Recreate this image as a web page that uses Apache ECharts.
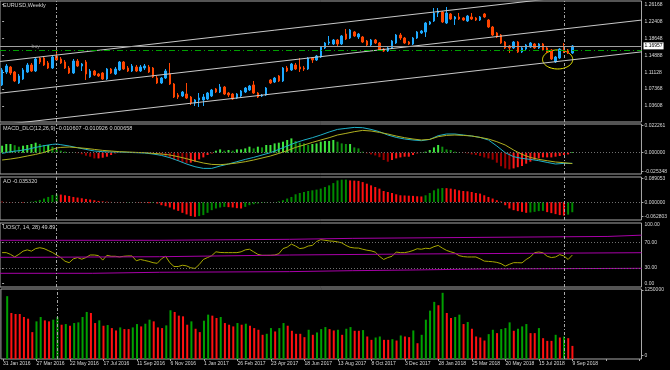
<!DOCTYPE html>
<html><head><meta charset="utf-8">
<script src="https://cdn.jsdelivr.net/npm/echarts@6/dist/echarts.min.js"></script>
<style>html,body{margin:0;padding:0;background:#000}#c{width:670px;height:370px}</style>
</head><body><div id="c"></div>
<script>
// ---------- data ----------
const dateLabels = ['31 Jan 2016','27 Mar 2016','22 May 2016','17 Jul 2016','11 Sep 2016','6 Nov 2016','1 Jan 2017','26 Feb 2017','23 Apr 2017','18 Jun 2017','13 Aug 2017','8 Oct 2017','3 Dec 2017','28 Jan 2018','25 Mar 2018','20 May 2018','15 Jul 2018','9 Sep 2018'];
const slotCount = 153; // weekly slots incl. empty space on the right
const barSlots = Array.from({length: slotCount}, (_, i) => String(i));

// [open, close, low, high]
const ohlc = [
[1.0829,1.1163,1.0806,1.1207],[1.1118,1.1252,1.1074,1.1296],[1.1229,1.1096,1.1051,1.1252],[1.1118,1.0918,1.0895,1.1140],[1.0873,1.1029,1.0851,1.1074],
[1.0962,1.1163,1.0940,1.1207],[1.1118,1.1274,1.1096,1.1319],[1.1274,1.1140,1.1118,1.1319],[1.1140,1.1408,1.1118,1.1452],[1.1430,1.1341,1.1296,1.1452],
[1.1430,1.1274,1.1252,1.1474],[1.1319,1.1207,1.1185,1.1363],[1.1207,1.1452,1.1185,1.1497],[1.1474,1.1385,1.1363,1.1630],[1.1408,1.1319,1.1296,1.1452],
[1.1341,1.1207,1.1185,1.1385],[1.1207,1.1096,1.1074,1.1252],[1.1096,1.1363,1.1074,1.1408],[1.1363,1.1252,1.1229,1.1408],[1.1252,1.1296,1.1140,1.1319],
[1.1341,1.1074,1.0940,1.1385],[1.1007,1.1140,1.0984,1.1185],[1.1140,1.1051,1.1029,1.1163],[1.1074,1.1029,1.1007,1.1096],[1.1096,1.0962,1.0940,1.1118],
[1.0962,1.1185,1.0940,1.1207],[1.1185,1.1096,1.1074,1.1207],[1.1074,1.1185,1.1051,1.1229],[1.1163,1.1341,1.1140,1.1363],[1.1341,1.1185,1.1163,1.1363],
[1.1207,1.1140,1.1118,1.1252],[1.1140,1.1252,1.1118,1.1296],[1.1229,1.1140,1.1118,1.1274],[1.1140,1.1229,1.1118,1.1274],[1.1207,1.1252,1.1163,1.1296],
[1.1229,1.1118,1.1096,1.1274],[1.1207,1.1007,1.0984,1.1229],[1.0984,1.0873,1.0851,1.1029],[1.0873,1.0984,1.0851,1.1007],[1.0984,1.1140,1.0962,1.1185],
[1.1074,1.0851,1.0829,1.1319],[1.0851,1.0561,1.0539,1.0873],[1.0606,1.0561,1.0517,1.0650],[1.0584,1.0673,1.0561,1.0695],[1.0628,1.0539,1.0517,1.0873],
[1.0561,1.0428,1.0383,1.0584],[1.0428,1.0495,1.0361,1.0517],[1.0495,1.0539,1.0339,1.0650],[1.0495,1.0561,1.0361,1.0628],[1.0517,1.0650,1.0495,1.0673],
[1.0584,1.0717,1.0561,1.0740],[1.0740,1.0673,1.0650,1.0762],[1.0673,1.0784,1.0650,1.0851],[1.0784,1.0628,1.0606,1.0806],[1.0650,1.0606,1.0561,1.0673],
[1.0628,1.0517,1.0495,1.0650],[1.0539,1.0628,1.0517,1.0650],[1.0584,1.0695,1.0561,1.0717],[1.0673,1.0762,1.0650,1.0784],[1.0717,1.0806,1.0695,1.0829],
[1.0829,1.0650,1.0628,1.0918],[1.0650,1.0561,1.0539,1.0673],[1.0584,1.0606,1.0561,1.0628],[1.0606,1.0762,1.0584,1.0784],[1.0940,1.0873,1.0851,1.0962],
[1.0895,1.0984,1.0873,1.1007],[1.1029,1.0918,1.0895,1.1051],[1.0918,1.1207,1.0895,1.1229],[1.1207,1.1140,1.1118,1.1252],[1.1163,1.1296,1.1140,1.1319],
[1.1274,1.1185,1.1163,1.1319],[1.1229,1.1185,1.1118,1.1430],[1.1207,1.1185,1.1140,1.1252],[1.1185,1.1430,1.1163,1.1452],[1.1430,1.1385,1.1319,1.1452],
[1.1385,1.1474,1.1363,1.1497],[1.1452,1.1675,1.1430,1.1697],[1.1653,1.1764,1.1630,1.1786],[1.1764,1.1786,1.1719,1.1920],[1.1742,1.1831,1.1719,1.1853],
[1.1831,1.1742,1.1675,1.1853],[1.1742,1.1920,1.1719,1.1942],[1.1964,1.1853,1.1831,1.2076],[1.1875,1.2053,1.1853,1.2076],[1.2009,1.1920,1.1898,1.2031],
[1.1898,1.1964,1.1853,1.1987],[1.1898,1.1786,1.1764,1.1920],[1.1808,1.1719,1.1697,1.1831],[1.1719,1.1831,1.1697,1.1853],[1.1831,1.1764,1.1742,1.1853],
[1.1764,1.1608,1.1586,1.1786],[1.1630,1.1586,1.1564,1.1653],[1.1586,1.1653,1.1564,1.1675],[1.1653,1.1808,1.1630,1.1831],[1.1764,1.1942,1.1742,1.1964],
[1.1942,1.1875,1.1831,1.1987],[1.1875,1.1764,1.1742,1.1898],[1.1786,1.1742,1.1719,1.1808],[1.1742,1.1875,1.1719,1.1898],[1.1875,1.2009,1.1853,1.2031],
[1.1987,1.2031,1.1964,1.2053],[1.2009,1.2209,1.1898,1.2232],[1.2187,1.2232,1.2165,1.2254],[1.2254,1.2432,1.2232,1.2543],[1.2432,1.2477,1.2343,1.2543],
[1.2454,1.2232,1.2209,1.2477],[1.2209,1.2432,1.2187,1.2566],[1.2410,1.2298,1.2276,1.2432],[1.2298,1.2343,1.2165,1.2365],[1.2343,1.2298,1.2276,1.2432],
[1.2321,1.2276,1.2254,1.2343],[1.2254,1.2365,1.2232,1.2388],[1.2343,1.2298,1.2276,1.2432],[1.2321,1.2276,1.2254,1.2343],[1.2276,1.2343,1.2254,1.2365],
[1.2410,1.2343,1.2321,1.2432],[1.2276,1.2120,1.2098,1.2298],[1.2120,1.1942,1.1920,1.2143],[1.1987,1.1898,1.1875,1.2009],[1.1942,1.1764,1.1742,1.1964],
[1.1786,1.1653,1.1630,1.1808],[1.1697,1.1653,1.1541,1.1719],[1.1653,1.1786,1.1630,1.1808],[1.1786,1.1564,1.1541,1.1808],[1.1564,1.1653,1.1541,1.1675],
[1.1630,1.1719,1.1608,1.1742],[1.1675,1.1764,1.1653,1.1786],[1.1742,1.1653,1.1630,1.1764],[1.1653,1.1742,1.1630,1.1764],[1.1742,1.1608,1.1586,1.1764],
[1.1653,1.1564,1.1541,1.1675],[1.1608,1.1408,1.1385,1.1630],[1.1341,1.1452,1.1319,1.1474],[1.1430,1.1630,1.1408,1.1653],[1.1630,1.1564,1.1541,1.1764],
[1.1608,1.1541,1.1519,1.1630],[1.1541,1.1697,1.1519,1.1719]
];

const currentPrice = 1.16957;
const buyLevel = 1.1601;
const priceTicks = [1.26168, 1.22408, 1.18648, 1.14888, 1.11128, 1.07368, 1.03608];
// channel lines: [[slot, price], [slot, price]]
const channelTop = [[-0.5, 1.1352], [152.5, 1.2980]];
const channelMid = [[-0.5, 1.0646], [152.5, 1.2274]];
const channelLow = [[-0.5, 0.9938], [152.5, 1.1566]];
// ellipse: [centre slot, centre price, half width (slots), half height (price)]
const ellipseMark = [[132.5, 1.1397, 3.6, 0.0212]];
const verticalLines = [13, 134];

const macdHist = [
0.0070,0.0087,0.0087,0.0075,0.0060,0.0070,0.0077,0.0087,0.0100,0.0087,
0.0077,0.0077,0.0060,0.0033,0.0020,0.0010,0.0003,0.0002,-0.0005,-0.0015,
-0.0030,-0.0040,-0.0057,-0.0057,-0.0050,-0.0040,-0.0023,-0.0007,-0.0002,0.0002,
0.0002,0.0001,0.0001,-0.0001,-0.0002,-0.0003,-0.0007,-0.0017,-0.0023,-0.0033,
-0.0050,-0.0067,-0.0083,-0.0097,-0.0107,-0.0100,-0.0090,-0.0067,-0.0047,-0.0023,
-0.0007,0.0020,0.0033,0.0020,0.0027,0.0020,0.0033,0.0033,0.0043,0.0060,
0.0043,0.0060,0.0053,0.0077,0.0077,0.0093,0.0100,0.0110,0.0127,0.0143,
0.0117,0.0100,0.0093,0.0077,0.0087,0.0093,0.0110,0.0117,0.0117,0.0127,
0.0110,0.0093,0.0087,0.0087,0.0053,0.0043,0.0010,-0.0007,-0.0017,-0.0027,
-0.0045,-0.0073,-0.0090,-0.0073,-0.0057,-0.0047,-0.0040,-0.0040,-0.0023,-0.0007,
0.0003,0.0010,0.0027,0.0053,0.0077,0.0060,0.0033,0.0027,0.0010,0.0003,
-0.0003,-0.0007,-0.0017,-0.0023,-0.0033,-0.0047,-0.0057,-0.0070,-0.0100,-0.0135,
-0.0157,-0.0167,-0.0157,-0.0145,-0.0133,-0.0110,-0.0090,-0.0070,-0.0057,-0.0047,
-0.0047,-0.0047,-0.0040,-0.0033,-0.0023,-0.0017,0.0007];
const macdMain = [[0,-0.0007],[2,0.0010],[4,0.0020],[6,0.0033],[8,0.0053],[10,0.0070],[12,0.0083],[13,0.0087],[14,0.0080],[16,0.0067],[18,0.0050],[20,0.0033],[22,0.0017],[24,0.0010],[26,0.0007],[28,0.0007],[30,0.0003],[32,0],[34,-0.0003],[36,-0.0013],[38,-0.0027],[40,-0.0050],[42,-0.0080],[44,-0.0113],[46,-0.0140],[48,-0.0157],[50,-0.0157],[52,-0.0133],[54,-0.0113],[56,-0.0090],[58,-0.0067],[60,-0.0047],[62,-0.0023],[64,0],[66,0.0033],[68,0.0067],[70,0.0100],[72,0.0127],[74,0.0150],[76,0.0177],[78,0.0207],[80,0.0233],[82,0.0243],[84,0.0253],[86,0.0250],[88,0.0233],[90,0.0210],[92,0.0177],[94,0.0153],[96,0.0137],[98,0.0127],[100,0.0120],[102,0.0133],[104,0.0170],[106,0.0187],[108,0.0187],[110,0.0177],[112,0.0167],[114,0.0153],[116,0.0127],[118,0.0067],[120,0],[122,-0.0040],[124,-0.0057],[126,-0.0067],[128,-0.0080],[130,-0.0097],[132,-0.0113],[134,-0.0107],[136,-0.0106]];
const macdSignal = [[0,-0.0073],[2,-0.0063],[4,-0.0050],[6,-0.0033],[8,-0.0017],[10,0.0003],[12,0.0033],[13,0.0047],[14,0.0053],[16,0.0057],[18,0.0050],[20,0.0043],[22,0.0033],[24,0.0023],[26,0.0017],[28,0.0010],[30,0.0007],[32,0.0003],[34,0],[36,-0.0007],[38,-0.0013],[40,-0.0023],[42,-0.0040],[44,-0.0060],[46,-0.0083],[48,-0.0103],[50,-0.0117],[52,-0.0120],[54,-0.0113],[56,-0.0103],[58,-0.0090],[60,-0.0073],[62,-0.0053],[64,-0.0033],[66,-0.0007],[68,0.0020],[70,0.0053],[72,0.0077],[74,0.0103],[76,0.0127],[78,0.0150],[80,0.0177],[82,0.0193],[84,0.0210],[86,0.0223],[88,0.0217],[90,0.0203],[92,0.0187],[94,0.0167],[96,0.0150],[98,0.0137],[100,0.0127],[102,0.0133],[104,0.0160],[106,0.0173],[108,0.0177],[110,0.0173],[112,0.0167],[114,0.0153],[116,0.0137],[118,0.0110],[120,0.0077],[122,0.0027],[124,-0.0017],[126,-0.0047],[128,-0.0067],[130,-0.0080],[132,-0.0093],[134,-0.0100],[136,-0.0109]];
const macdTickValues = [0.027, 0, -0.019];
const macdTickLabels = ['0.022261', '0.000000', '-0.025348'];

const aoValues = [
0.0018,0.0011,0.0007,0.0004,-0.0007,-0.0014,0.0007,0.0021,0.0046,0.0080,
0.0130,0.0186,0.0256,0.0280,0.0270,0.0245,0.0221,0.0186,0.0165,0.0140,
0.0116,0.0095,0.0070,0.0046,0.0028,0.0018,0.0011,0.0007,-0.0007,-0.0011,
-0.0007,0.0004,-0.0007,-0.0014,-0.0021,-0.0032,-0.0028,-0.0046,-0.0105,-0.0140,
-0.0186,-0.0256,-0.0305,-0.0375,-0.0431,-0.0490,-0.0515,-0.0490,-0.0455,-0.0375,
-0.0280,-0.0221,-0.0186,-0.0165,-0.0175,-0.0186,-0.0210,-0.0221,-0.0165,-0.0105,
-0.0070,-0.0046,-0.0025,-0.0011,-0.0004,0.0007,0.0028,0.0070,0.0130,0.0186,
0.0280,0.0326,0.0361,0.0396,0.0420,0.0445,0.0480,0.0536,0.0595,0.0676,
0.0770,0.0795,0.0798,0.0770,0.0763,0.0753,0.0711,0.0655,0.0595,0.0536,
0.0480,0.0396,0.0361,0.0326,0.0280,0.0245,0.0238,0.0231,0.0224,0.0210,
0.0203,0.0245,0.0326,0.0420,0.0480,0.0501,0.0497,0.0480,0.0455,0.0420,
0.0396,0.0385,0.0361,0.0326,0.0305,0.0245,0.0186,0.0130,0.0070,0.0025,
-0.0105,-0.0221,-0.0280,-0.0315,-0.0340,-0.0375,-0.0361,-0.0340,-0.0315,-0.0305,
-0.0350,-0.0385,-0.0420,-0.0455,-0.0473,-0.0438,-0.0353];
const aoRange = [-0.062803, 0.089053];
const aoTickValues = [0.0845, 0, -0.0511];
const aoTickLabels = ['0.089053', '0.000000', '-0.062803'];

const uosValues = [
53.7,53.7,51,47,51,56,58,56,60,61.4,
60,57,54,50,46,40.3,38,44,46,43.4,
46,50,50,49,42,49.5,48,48,47,48,
48.5,48.5,41,43,41.5,40,38,37,44,48,
38,32,32,34,33,30,29,35,43,46,
49,55,54,53.7,53.7,53.7,53.7,55,58,59,
55,51,49.5,49.5,49.5,50,52,60,62.3,67,
64,60,61,64,65,71,74,73,72,71.5,
70.5,69,65,62,61,60.8,59,57.5,56.5,54.5,
48,43,46,48,54.6,53.7,53.7,55,57,59.8,
59,60.5,60,63,65,60.8,57.2,55,53,49,
47.5,46.9,46.9,46.9,44,40.5,40,39.5,38.5,36.5,
32.6,35.5,38,38,37.7,43,47,53.7,54.6,53.5,
48,46,46.9,50.6,48.5,43,49.89];
const uosUpper = [[-0.5,73],[37.5,74.5],[68.5,76],[83.5,77.5],[113.5,79],[144.5,81],[152.5,81]];
const uosMiddle = [[-0.5,46.4],[6.5,47.3],[37.5,50],[68.5,51.6],[98.5,53.6],[152.5,53.6]];
const uosLower = [[-0.5,21.4],[21.5,23],[37.5,24],[68.5,25.5],[83.5,26.6],[98.5,28.1],[113.5,29.2],[152.5,29.2]];
const uosTickValues = [98, 70, 30, 6];
const uosTickLabels = ['100.00', '70.00', '30.00', '0.00'];

const volumes = [
null,1122000,822000,804000,804000,750000,720000,480000,672000,750000,
690000,672000,702000,750000,612000,624000,594000,642000,654000,750000,
840000,822000,642000,690000,594000,606000,552000,510000,564000,534000,
534000,564000,624000,582000,630000,702000,672000,564000,552000,600000,
870000,840000,774000,762000,612000,672000,540000,480000,684000,792000,
774000,732000,750000,642000,612000,582000,642000,612000,630000,594000,
552000,522000,432000,450000,552000,492000,552000,642000,594000,504000,
450000,450000,390000,522000,432000,474000,534000,570000,534000,510000,
522000,432000,540000,570000,504000,504000,516000,402000,342000,384000,
402000,342000,342000,354000,330000,420000,402000,390000,510000,282000,
432000,702000,864000,1020000,960000,1182000,822000,732000,750000,792000,
624000,660000,540000,402000,384000,330000,444000,522000,462000,534000,
552000,654000,504000,540000,582000,624000,462000,462000,552000,372000,
324000,324000,432000,384000,402000,372000,234000];
const volTickValues = [1232000, 59000];
const volTickLabels = ['1250000', '0'];

[ohlc, macdHist, aoValues, uosValues, volumes].forEach((a, k) => { if (a.length !== 137) throw new Error('length ' + k + ' ' + a.length); });

// ---------- styling helpers ----------
const FONT = 'Liberation Sans';
const txt = '#d8d8d8';
const grids = [
  {left: 0, top: 1, width: 641.5, height: 121},
  {left: 0, top: 124, width: 641.5, height: 50},
  {left: 0, top: 177, width: 641.5, height: 43},
  {left: 0, top: 223, width: 641.5, height: 64},
  {left: 0, top: 289, width: 641.5, height: 70}
].map(g => Object.assign(g, {show: true, borderColor: '#a8a8a8', borderWidth: 1, backgroundColor: 'transparent'}));

function catAxis(gi, withLabels) {
  return {
    type: 'category', gridIndex: gi, data: barSlots, boundaryGap: true,
    axisLine: {show: false}, splitLine: {show: false},
    axisTick: withLabels ? {show: true, interval: 7, alignWithLabel: true, length: 2, lineStyle: {color: '#a8a8a8'}} : {show: false},
    axisLabel: withLabels ? {
      show: true, interval: 7, align: 'left', margin: 2, fontSize: 5, fontFamily: FONT, color: txt,
      formatter: (v, idx) => (idx % 8 === 0 && dateLabels[idx / 8]) ? dateLabels[idx / 8] : ''
    } : {show: false}
  };
}
function valAxisX(gi) {
  return {type: 'value', gridIndex: gi, min: -0.5, max: 152.5, show: false};
}
function rightAxis(gi, min, max, values, labels) {
  return {
    type: 'value', gridIndex: gi, position: 'right', min: min, max: max,
    axisLine: {show: false}, splitLine: {show: false},
    axisTick: {show: true, length: 2, customValues: values, lineStyle: {color: '#a8a8a8'}},
    axisLabel: {show: true, customValues: values, margin: 3, fontSize: 5, fontFamily: FONT, color: txt,
      formatter: (v) => { const k = values.indexOf(v); return k >= 0 ? (labels ? labels[k] : v.toFixed(5)) : ''; }}
  };
}
const vStyle = {color: '#a8a8a8', type: [3, 2, 1, 2], width: 1};
const vertMarks = verticalLines.map(x => ({xAxis: x, lineStyle: vStyle}));
const dotted = {color: '#707070', type: [1, 2], width: 1};

function macdColor(v, i) {
  const p = i > 0 ? macdHist[i - 1] : v;
  if (v >= 0) return v >= p ? '#3ee63e' : '#0f8f0f';
  return v < p ? '#a00000' : '#ff1a1a';
}
const macdData = macdHist.map((v, i) => ({value: v, itemStyle: {color: macdColor(v, i)}}));
const aoData = aoValues.map((v, i) => ({value: v, itemStyle: {color: (i > 0 && v > aoValues[i - 1]) ? '#008a00' : '#ff1010'}}));
const volData = volumes.map((v, i) => ({value: v, itemStyle: {color: (v != null && (i === 0 || volumes[i - 1] == null || v > volumes[i - 1])) ? '#00a000' : '#ff1010'}}));

const titleStyle = {fontSize: 5.5, fontFamily: FONT, color: txt, fontWeight: 'normal'};
const option = {
  backgroundColor: '#000',
  animation: false,
  title: [
    {text: 'EURUSD,Weekly', left: 3, top: 2, padding: 0, textStyle: titleStyle},
    {text: 'MACD_DLC(12,26,9) -0.010607 -0.010926 0.000658', left: 3, top: 125, padding: 0, textStyle: titleStyle},
    {text: 'AO -0.035320', left: 3, top: 178, padding: 0, textStyle: titleStyle},
    {text: 'UOS(7, 14, 28) 49.89', left: 3, top: 224, padding: 0, textStyle: titleStyle}
  ],
  grid: grids,
  xAxis: [catAxis(0), catAxis(1), catAxis(2), catAxis(3), catAxis(4, true), valAxisX(0), valAxisX(3)],
  yAxis: [
    rightAxis(0, 1.00046, 1.26992, priceTicks, null),
    rightAxis(1, -0.0213, 0.0287, macdTickValues, macdTickLabels),
    rightAxis(2, aoRange[0], aoRange[1], aoTickValues, aoTickLabels),
    rightAxis(3, 0, 100, uosTickValues, uosTickLabels),
    rightAxis(4, 0, 1250000, volTickValues, volTickLabels)
  ],
  series: [
    {
      type: 'candlestick', xAxisIndex: 0, yAxisIndex: 0, data: ohlc, barWidth: 2,
      itemStyle: {color: '#1eaaff', color0: '#ff4500', borderColor: '#1eaaff', borderColor0: '#ff4500', borderWidth: 1},
      markLine: {
        silent: true, symbol: ['none', 'none'], label: {show: false},
        data: vertMarks.concat([
          {yAxis: buyLevel, lineStyle: {color: '#00a000', type: [6, 3, 1, 3], width: 1}},
          {yAxis: currentPrice, lineStyle: {color: '#a0a0a0', type: 'solid', width: 1},
           label: {show: true, position: 'end', distance: 2, formatter: () => currentPrice.toFixed(5),
                   backgroundColor: '#ffffff', color: '#000', fontSize: 5, fontFamily: FONT, padding: [1, 1]}}
        ])
      }
    },
    {type: 'line', xAxisIndex: 5, yAxisIndex: 0, data: channelTop, symbol: 'none', silent: true, clip: true, lineStyle: {color: '#c8c8c8', width: 1}},
    {type: 'line', xAxisIndex: 5, yAxisIndex: 0, data: channelMid, symbol: 'none', silent: true, clip: true, lineStyle: {color: '#c8c8c8', width: 1}},
    {type: 'line', xAxisIndex: 5, yAxisIndex: 0, data: channelLow, symbol: 'none', silent: true, clip: true, lineStyle: {color: '#c8c8c8', width: 1}},
    {
      type: 'custom', xAxisIndex: 5, yAxisIndex: 0, data: ellipseMark, silent: true,
      encode: {x: 0, y: 1},
      renderItem: function (params, api) {
        const cx = api.value(0), cy = api.value(1);
        const c = api.coord([cx, cy]);
        const e = api.coord([cx + api.value(2), cy + api.value(3)]);
        const rx = Math.abs(e[0] - c[0]), ry = Math.abs(e[1] - c[1]);
        const pts = [];
        for (let k = 0; k < 60; k++) { const t = k / 60 * Math.PI * 2; pts.push([c[0] + rx * Math.cos(t), c[1] + ry * Math.sin(t)]); }
        return {type: 'polygon', shape: {points: pts}, style: {fill: 'none', stroke: '#f0f000', lineWidth: 1}};
      }
    },
    {
      type: 'scatter', xAxisIndex: 5, yAxisIndex: 0, data: [[8, buyLevel]], symbolSize: 0, silent: true,
      label: {show: true, position: 'top', distance: 1, formatter: 'buy', color: '#a0a0a0', fontSize: 5, fontFamily: FONT}
    },
    // MACD
    {
      type: 'bar', xAxisIndex: 1, yAxisIndex: 1, data: macdData, barWidth: 2, silent: true,
      markLine: {silent: true, symbol: ['none', 'none'], label: {show: false},
        data: [{yAxis: 0, lineStyle: dotted}].concat(vertMarks)}
    },
    {type: 'line', xAxisIndex: 1, yAxisIndex: 1, data: macdMain, symbol: 'none', silent: true, lineStyle: {color: '#1fb0c8', width: 1}},
    {type: 'line', xAxisIndex: 1, yAxisIndex: 1, data: macdSignal, symbol: 'none', silent: true, lineStyle: {color: '#b0b020', width: 1}},
    // AO
    {
      type: 'bar', xAxisIndex: 2, yAxisIndex: 2, data: aoData, barWidth: 2, silent: true,
      markLine: {silent: true, symbol: ['none', 'none'], label: {show: false},
        data: [{yAxis: 0, lineStyle: dotted}].concat(vertMarks)}
    },
    // UOS
    {
      type: 'line', xAxisIndex: 3, yAxisIndex: 3, data: uosValues, symbol: 'none', silent: true,
      lineStyle: {color: '#a8a800', width: 1},
      markLine: {silent: true, symbol: ['none', 'none'], label: {show: false},
        data: [{yAxis: 70, lineStyle: dotted}, {yAxis: 30, lineStyle: dotted}].concat(vertMarks)}
    },
    {type: 'line', xAxisIndex: 6, yAxisIndex: 3, data: uosUpper, step: 'end', symbol: 'none', silent: true, lineStyle: {color: '#a800a8', width: 1}},
    {type: 'line', xAxisIndex: 6, yAxisIndex: 3, data: uosMiddle, step: 'end', symbol: 'none', silent: true, lineStyle: {color: '#a800a8', width: 1}},
    {type: 'line', xAxisIndex: 6, yAxisIndex: 3, data: uosLower, step: 'end', symbol: 'none', silent: true, lineStyle: {color: '#a800a8', width: 1}},
    // Volume
    {
      type: 'bar', xAxisIndex: 4, yAxisIndex: 4, data: volData, barWidth: 2, silent: true,
      markLine: {silent: true, symbol: ['none', 'none'], label: {show: false}, data: vertMarks}
    }
  ]
};
const chart = echarts.init(document.getElementById('c'), null, {renderer: 'canvas'});
chart.setOption(option);
</script>
</body></html>
